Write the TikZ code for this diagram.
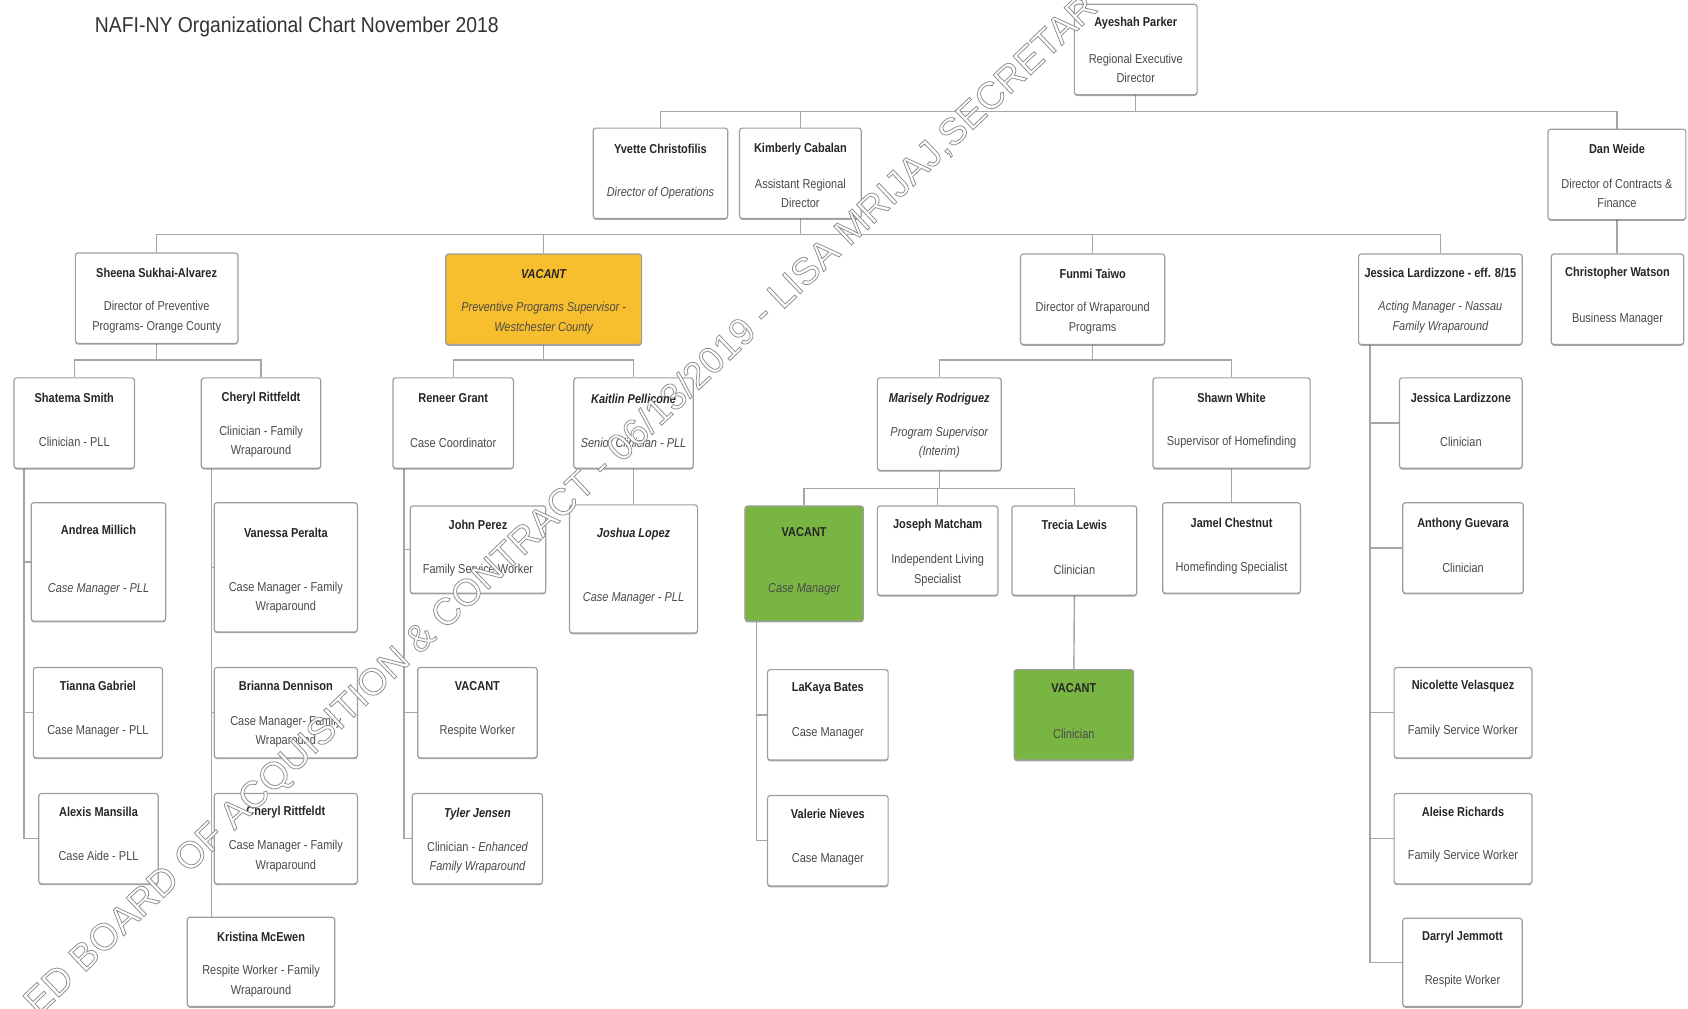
\documentclass[tikz,border=0pt]{standalone}
\usepackage{fontspec}
\setmainfont{Liberation Sans}[FakeStretch=0.85]
\newfontfamily\titlefont{Liberation Sans}[FakeStretch=0.9]
\newfontfamily\wmfont{Liberation Sans}
\usetikzlibrary{fit,shadows}
\definecolor{orgline}{HTML}{A6A6A6}
\definecolor{boxline}{HTML}{9E9E9E}
\definecolor{namecol}{HTML}{262626}
\definecolor{titlecol}{HTML}{4A4A4A}
\definecolor{vacorange}{HTML}{F7BE2E}
\definecolor{vacgreen}{HTML}{79B543}
\pgfdeclarelayer{back}
\pgfdeclarelayer{bg}
\pgfsetlayers{back,bg,main}
\tikzset{
 box/.style={draw=boxline, line width=1.1pt, rounded corners=2.5pt, fill=white, inner sep=0pt,
   drop shadow={shadow xshift=0pt, shadow yshift=-1.2pt, opacity=0.35, fill=black}},
 vacO/.style={fill=vacorange},
 vacG/.style={fill=vacgreen},
 nm/.style={font=\fontsize{12}{14}\selectfont\bfseries, text=namecol, inner sep=0pt},
 tt/.style={font=\fontsize{12}{18}\selectfont, text=titlecol, align=center, inner sep=0pt},
 conn/.style={draw=orgline, line width=1.3pt},
}
\newcommand\pbox[8]{%
 \node[box,#2,fit={#3 #4}] (#1) {};
 \node[nm] (#1-n) at ([yshift=-#5pt]#1.north) {#6};
 \node[tt] (#1-t) at ([yshift=-#7pt]#1.north) {#8};
}
\newcommand\hollowtext[1]{%
 \special{pdf:bcolor [1] [0.55]}%
 \special{pdf:literal direct 2 Tr 0.7 w}%
 #1%
 \special{pdf:literal direct 0 Tr 1 w}%
 \special{pdf:ecolor}}
\begin{document}
\begin{tikzpicture}[x=1pt,y=-1pt]
\begin{pgfonlayer}{back}
\fill[white] (0,0) rectangle (1568,937);
\end{pgfonlayer}
\useasboundingbox (0,0) rectangle (1568,937);

\node[anchor=west, font=\titlefont\fontsize{20}{24}\selectfont, text=black!80, inner sep=0pt] (title) at (88,25) {NAFI-NY Organizational Chart November 2018};

\pbox{ay}{}{(998,4)}{(1112,88)}{18}{Ayeshah Parker}{60}{Regional Executive\\Director}
\pbox{yv}{}{(551,119)}{(676,203)}{20}{Yvette Christofilis}{61}{\itshape Director of Operations}
\pbox{kc}{}{(687,119)}{(800,203)}{20}{Kimberly Cabalan}{61}{Assistant Regional\\Director}
\pbox{dw}{}{(1438,120)}{(1566,204)}{19}{Dan Weide}{60}{Director of Contracts \&\\Finance}
\pbox{ss}{}{(70,235)}{(221,319)}{19}{Sheena Sukhai-Alvarez}{60}{Director of Preventive\\Programs- Orange County}
\pbox{vo}{vacO}{(414,236)}{(596,320)}{19}{\itshape VACANT}{60}{\itshape Preventive Programs Supervisor -\\\itshape Westchester County}
\pbox{ft}{}{(948,236)}{(1082,320)}{19}{Funmi Taiwo}{60}{Director of Wraparound\\Programs}
\pbox{jl}{}{(1262,236)}{(1414,320)}{18}{Jessica Lardizzone - eff. 8/15}{59}{\itshape Acting Manager - Nassau\\\itshape Family Wraparound}
\pbox{cw}{}{(1441,236)}{(1564,320)}{18}{Christopher Watson}{61}{Business Manager}
\pbox{sm}{}{(13,351)}{(125,435)}{19}{Shatema Smith}{60}{Clinician - PLL}
\pbox{cr}{}{(187,351)}{(298,435)}{19}{Cheryl Rittfeldt}{60}{Clinician - Family\\Wraparound}
\pbox{rg}{}{(365,351)}{(477,435)}{19}{Reneer Grant}{61}{Case Coordinator}
\pbox{kp}{}{(533,351)}{(644,435)}{20}{\itshape Kaitlin Pellicone}{61}{\itshape Senior Clinician - PLL}
\pbox{mr}{}{(815,351)}{(930,437)}{20}{\itshape Marisely Rodriguez}{61}{\itshape Program Supervisor\\\itshape (Interim)}
\pbox{sw}{}{(1071,351)}{(1217,435)}{19}{Shawn White}{60}{Supervisor of Homefinding}
\pbox{jc}{}{(1300,351)}{(1414,435)}{19}{Jessica Lardizzone}{60}{Clinician}
\pbox{am}{}{(29,467)}{(154,577)}{26}{Andrea Millich}{81}{\itshape Case Manager - PLL}
\pbox{vp}{}{(199,467)}{(332,587)}{29}{Vanessa Peralta}{89}{Case Manager - Family\\Wraparound}
\pbox{jp}{}{(381,470)}{(507,551)}{18}{John Perez}{60}{Family Service Worker}
\pbox{jo}{}{(529,469)}{(648,588)}{28}{\itshape Joshua Lopez}{87}{\itshape Case Manager - PLL}
\pbox{vg}{vacG}{(692,470)}{(802,577)}{25}{VACANT}{78}{\itshape Case Manager}
\pbox{jm}{}{(815,470)}{(927,553)}{18}{Joseph Matcham}{60}{Independent Living\\Specialist}
\pbox{tl}{}{(940,470)}{(1056,553)}{18}{Trecia Lewis}{60}{Clinician}
\pbox{jch}{}{(1080,467)}{(1208,551)}{19}{Jamel Chestnut}{61}{Homefinding Specialist}
\pbox{ag}{}{(1303,467)}{(1415,551)}{20}{Anthony Guevara}{61}{Clinician}
\pbox{tg}{}{(31,620)}{(151,704)}{18}{Tianna Gabriel}{60}{Case Manager - PLL}
\pbox{bd}{}{(199,620)}{(332,704)}{18}{Brianna Dennison}{60}{Case Manager- Family\\Wraparound}
\pbox{vr}{}{(388,620)}{(499,704)}{18}{VACANT}{60}{Respite Worker}
\pbox{lb}{}{(713,622)}{(825,706)}{18}{LaKaya Bates}{60}{Case Manager}
\pbox{vc}{vacG}{(942,622)}{(1053,706)}{18}{VACANT}{60}{Clinician}
\pbox{nv}{}{(1295,620)}{(1423,704)}{18}{Nicolette Velasquez}{60}{Family Service Worker}
\pbox{ax}{}{(36,737)}{(147,821)}{18}{Alexis Mansilla}{59}{Case Aide - PLL}
\pbox{crr}{}{(199,737)}{(332,821)}{18}{Cheryl Rittfeldt}{59}{Case Manager - Family\\Wraparound}
\pbox{tj}{}{(383,737)}{(504,821)}{20}{\itshape Tyler Jensen}{60}{Clinician - \itshape Enhanced\\\itshape Family Wraparound}
\pbox{vn}{}{(713,739)}{(825,823)}{18}{Valerie Nieves}{60}{Case Manager}
\pbox{ar}{}{(1295,737)}{(1423,821)}{18}{Aleise Richards}{59}{Family Service Worker}
\pbox{km}{}{(174,852)}{(311,935)}{19}{Kristina McEwen}{60}{Respite Worker - Family\\Wraparound}
\pbox{dj}{}{(1303,853)}{(1414,935)}{18}{Darryl Jemmott}{59}{Respite Worker}

\begin{pgfonlayer}{bg}
\draw[conn] (ay.south) -- ++(0,15) -| (yv.north);
\draw[conn] (ay.south) -- ++(0,15) -| (kc.north);
\draw[conn] (ay.south) -- ++(0,15) -| (dw.north);
\draw[conn] (kc.south) -- ++(0,14) -| (ss.north);
\draw[conn] (kc.south) -- ++(0,14) -| (vo.north);
\draw[conn] (kc.south) -- ++(0,14) -| (ft.north);
\draw[conn] (kc.south) -- ++(0,14) -| (jl.north);
\draw[conn] (dw.south) -- (dw.south |- cw.north);
\draw[conn] (ss.south) -- ++(0,15) -| (sm.north);
\draw[conn] (ss.south) -- ++(0,15) -| (cr.north);
\draw[conn] (vo.south) -- ++(0,14) -| (rg.north);
\draw[conn] (vo.south) -- ++(0,14) -| (kp.north);
\draw[conn] (ft.south) -- ++(0,14) -| (mr.north);
\draw[conn] (ft.south) -- ++(0,14) -| (sw.north);
\draw[conn] (mr.south) -- ++(0,16) -| (vg.north);
\draw[conn] (mr.south) -- ++(0,16) -| (jm.north);
\draw[conn] (mr.south) -- ++(0,16) -| (tl.north);
\draw[conn] (kp.south) -- (jo.north);
\draw[conn] (tl.south) -- (vc.north);
\draw[conn] (sw.south) -- (jch.north);
\coordinate (smT) at ([xshift=10pt]sm.south west);
\draw[conn] (smT) |- (am.west);
\draw[conn] (smT) |- (tg.west);
\draw[conn] (smT) |- (ax.west);
\coordinate (crT) at ([xshift=10pt]cr.south west);
\draw[conn] (crT) |- (vp.west);
\draw[conn] (crT) |- (bd.west);
\draw[conn] (crT) |- (crr.west);
\draw[conn] (crT) -- (crT |- km.north);
\coordinate (rgT) at ([xshift=11pt]rg.south west);
\draw[conn] (rgT) |- (jp.west);
\draw[conn] (rgT) |- (vr.west);
\draw[conn] (rgT) |- (tj.west);
\coordinate (vgT) at ([xshift=11pt]vg.south west);
\draw[conn] (vgT) |- (lb.west);
\draw[conn] (vgT) |- (vn.west);
\coordinate (jlT) at ([xshift=11pt]jl.south west);
\draw[conn] (jlT) |- (jc.west);
\draw[conn] (jlT) |- (ag.west);
\draw[conn] (jlT) |- (nv.west);
\draw[conn] (jlT) |- (ar.west);
\draw[conn] (jlT) |- (dj.west);
\end{pgfonlayer}

\node[rotate=43.5, font=\wmfont\fontsize{35}{35}\selectfont, inner sep=0pt] (wm) at (522,470)
  {\hollowtext{ED BOARD OF ACQUISITION \& CONTRACT - 06/13/2019 - LISA MRIJAJ,SECRETAR}};
\end{tikzpicture}
\end{document}
